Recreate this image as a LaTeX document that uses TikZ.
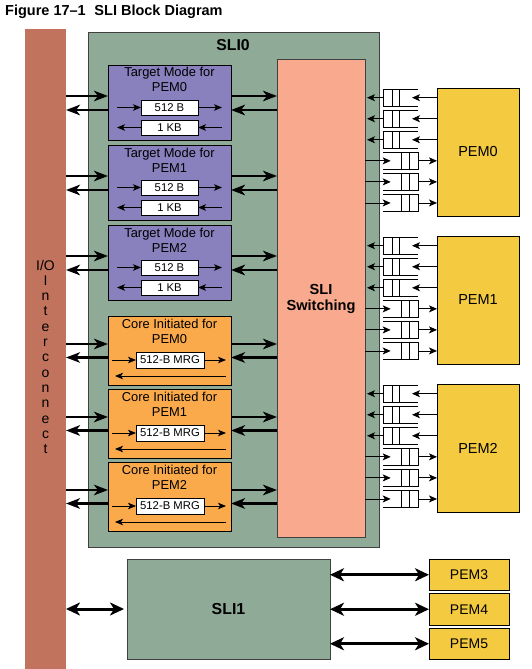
\documentclass[tikz,border=0pt]{standalone}
\usepackage{fontspec}
\setmainfont{Liberation Sans}
\usetikzlibrary{arrows.meta,calc}
\definecolor{iobar}{HTML}{C1735D}
\definecolor{sligreen}{HTML}{8FAB97}
\definecolor{tmpurple}{HTML}{8980BE}
\definecolor{ciorange}{HTML}{FAAA4B}
\definecolor{swsalmon}{HTML}{F9AA8E}
\definecolor{pemyellow}{HTML}{F4CB40}
\definecolor{edgegray}{HTML}{404040}
\begin{document}
\begin{tikzpicture}[x=1pt,y=-1pt,
  box/.style={draw, inner sep=0pt, outer sep=0pt, anchor=north west, line width=0.9pt},
  iobox/.style={box, draw=none, fill=iobar, minimum width=41pt, minimum height=640pt},
  slibox/.style={box, draw=edgegray, fill=sligreen, line width=1pt},
  swbox/.style={box, draw=edgegray, fill=swsalmon, line width=1pt},
  tbox/.style={box, fill=tmpurple, minimum width=123pt, minimum height=75pt},
  cbox/.style={box, fill=ciorange, minimum width=123pt, minimum height=69pt},
  ibox/.style={box, fill=white, line width=0.8pt, minimum width=57pt, minimum height=15pt, font=\fontsize{11.3}{13}\selectfont},
  pembox/.style={box, fill=pemyellow, font=\fontsize{14.5}{17}\selectfont},
  queue/.style={inner sep=0pt, outer sep=0pt, minimum width=35pt, minimum height=16.7pt},
  ttl/.style={anchor=base, inner sep=0pt, font=\fontsize{12.9}{15}\selectfont},
  iotxt/.style={anchor=base, inner sep=0pt, font=\fontsize{14}{15}\selectfont},
  barr/.style={line width=2.6pt, -{Stealth[length=14pt,width=10.5pt,inset=4pt]}},
  tarr/.style={line width=0.9pt, -{Stealth[length=8pt,width=6.5pt,inset=2pt]}},
  qarr/.style={line width=0.9pt, -{Stealth[length=8pt,width=7pt,inset=2pt]}},
  qline/.style={line width=0.9pt},
  darr/.style={line width=3pt, {Stealth[length=14pt,width=13pt,inset=4pt]}-{Stealth[length=14pt,width=13pt,inset=4pt]}}
]
\useasboundingbox (0,0) rectangle (531,669);
\fill[white] (0,0) rectangle (531,669);

% title
\node[anchor=base west, inner sep=0pt, font=\bfseries\fontsize{14.5}{17}\selectfont] (title) at (5,16) {Figure 17--1\hspace{0.6em}SLI Block Diagram};

% I/O interconnect bar
\node[iobox] (io) at (25,29) {};
\foreach \c [count=\i from 0] in {I/O,I,n,t,e,r,c,o,n,n,e,c,t}
  \node[iotxt] (iot\i) at (45.5,270+15.3*\i) {\c};

% SLI0
\node[slibox, minimum width=291pt, minimum height=514pt] (sli0) at (88,33) {};
\node[anchor=base, inner sep=0pt, font=\bfseries\fontsize{15.8}{18}\selectfont] (sli0lbl) at (233,51) {SLI0};

% switching
\node[swbox, minimum width=88pt, minimum height=477pt] (sw) at (277,60) {};
\node[align=center, inner sep=0pt, font=\bfseries\fontsize{14.6}{16}\selectfont] (swlbl) at (sw.center) {SLI\\Switching};

% target mode boxes
\foreach \k in {0,1,2} {
  \pgfmathsetmacro\t{65+80*\k}
  \node[tbox] (tm\k) at (108,\t) {};
  \node[ttl] (tmt\k) at (169.5,\t+12) {Target Mode for};
  \node[ttl] (tmp\k) at (169.5,\t+27) {PEM\k};
  \node[ibox] (ba\k) at (141,\t+35) {512 B};
  \node[ibox] (bb\k) at (141,\t+55) {1 KB};
  \draw[tarr] ([xshift=9pt]tm\k.west |- ba\k.west) -- (ba\k.west);
  \draw[tarr] (ba\k.east) -- ([xshift=-9pt]tm\k.east |- ba\k.east);
  \draw[tarr] ([xshift=-9pt]tm\k.east |- bb\k.east) -- (bb\k.east);
  \draw[tarr] (bb\k.west) -- ([xshift=9pt]tm\k.west |- bb\k.west);
  \coordinate (ta\k) at ([yshift=-31pt]tm\k.north west);
  \coordinate (tb\k) at ([yshift=-45pt]tm\k.north west);
  \draw[barr] (io.east |- ta\k) -- (ta\k);
  \draw[barr] (tm\k.west |- tb\k) -- (io.east |- tb\k);
  \draw[barr] (tm\k.east |- ta\k) -- (sw.west |- ta\k);
  \draw[barr] (sw.west |- tb\k) -- (tm\k.east |- tb\k);
}

% core initiated boxes
\foreach \k in {0,1,2} {
  \pgfmathsetmacro\t{316+73*\k}
  \node[cbox] (ci\k) at (108,\t) {};
  \node[ttl] (cit\k) at (169.5,\t+12.5) {Core Initiated for};
  \node[ttl] (cip\k) at (169.5,\t+27.5) {PEM\k};
  \node[ibox, minimum width=68pt, minimum height=16pt] (mrg\k) at (136,\t+36) {512-B MRG};
  \draw[tarr] ([xshift=4pt]ci\k.west |- mrg\k.west) -- (mrg\k.west);
  \draw[tarr] (mrg\k.east) -- ([xshift=-5pt]ci\k.east |- mrg\k.east);
  \coordinate (cl\k) at ([yshift=-60pt]ci\k.north east);
  \draw[tarr] ([xshift=-5pt]cl\k) -- ([xshift=7pt]ci\k.west |- cl\k);
  \coordinate (ca\k) at ([yshift=-28pt]ci\k.north west);
  \coordinate (cb\k) at ([yshift=-41.5pt]ci\k.north west);
  \draw[barr] (io.east |- ca\k) -- (ca\k);
  \draw[barr] (ci\k.west |- cb\k) -- (io.east |- cb\k);
  \draw[barr] (ci\k.east |- ca\k) -- (sw.west |- ca\k);
  \draw[barr] (sw.west |- cb\k) -- (ci\k.east |- cb\k);
}

% PEM0-2 with queues
\foreach \k in {0,1,2} {
  \pgfmathsetmacro\t{88+148*\k}
  \node[pembox, minimum width=82pt, minimum height=128pt] (pem\k) at (437,\t) {PEM\k};
  \foreach \i in {0,...,5} {
    \pgfmathsetmacro\y{\t+9.7+21.05*\i}
    \node[queue] (q\k\i) at (400.5,\y) {};
    \ifnum\i<3
      \draw[qline] (q\k\i.north east) -- (q\k\i.north west) -- (q\k\i.south west) -- (q\k\i.south east);
      \draw[qline] ([xshift=9.3pt]q\k\i.north west) -- ([xshift=9.3pt]q\k\i.south west);
      \draw[qline] ([xshift=16.7pt]q\k\i.north west) -- ([xshift=16.7pt]q\k\i.south west);
      \draw[qarr] (pem\k.west |- q\k\i.east) -- ([xshift=-6pt]q\k\i.east);
      \draw[qarr] (q\k\i.west) -- ([xshift=2pt]sw.east |- q\k\i.west);
    \else
      \draw[qline] (q\k\i.north west) -- (q\k\i.north east) -- (q\k\i.south east) -- (q\k\i.south west);
      \draw[qline] ([xshift=18.3pt]q\k\i.north west) -- ([xshift=18.3pt]q\k\i.south west);
      \draw[qline] ([xshift=26pt]q\k\i.north west) -- ([xshift=26pt]q\k\i.south west);
      \draw[qarr] (sw.east |- q\k\i.west) -- ([xshift=7.7pt]q\k\i.west);
      \draw[qarr] (q\k\i.east) -- (pem\k.west |- q\k\i.east);
    \fi
  }
}

% SLI1
\node[slibox, minimum width=203pt, minimum height=100pt, font=\bfseries\fontsize{15.9}{18}\selectfont] (sli1) at (127,559) {SLI1};
\node[pembox, minimum width=80pt, minimum height=31.5pt, font=\fontsize{14}{16}\selectfont] (pem3) at (429,559) {PEM3};
\node[pembox, minimum width=80pt, minimum height=31.5pt, font=\fontsize{14}{16}\selectfont] (pem4) at (429,593.5) {PEM4};
\node[pembox, minimum width=80pt, minimum height=31.5pt, font=\fontsize{14}{16}\selectfont] (pem5) at (429,628) {PEM5};
\draw[darr] (sli1.east |- pem3.west) -- (pem3.west);
\draw[darr] (sli1.east |- pem4.west) -- (pem4.west);
\draw[darr] (sli1.east |- pem5.west) -- (pem5.west);
\draw[darr, shorten >=3pt] (io.east |- sli1.west) -- (sli1.west);
\end{tikzpicture}
\end{document}
